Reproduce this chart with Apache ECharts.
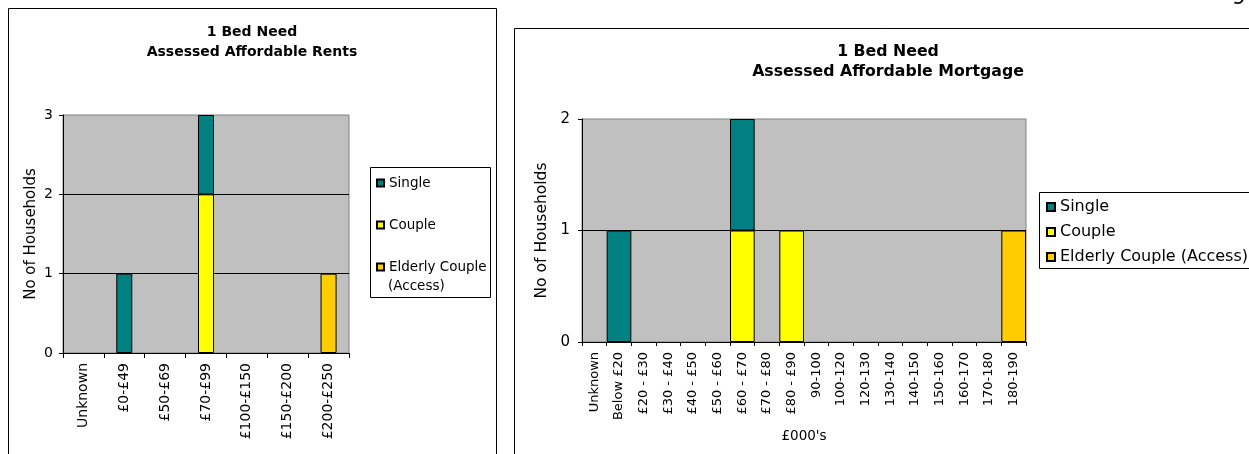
<!DOCTYPE html>
<html>
<head>
<meta charset="utf-8">
<script src="https://cdn.jsdelivr.net/npm/echarts@6/dist/echarts.min.js"></script>
<style>
  html, body { margin: 0; padding: 0; background: #fff; }
  #chart { width: 1249px; height: 454px; }
</style>
</head>
<body>
<div id="chart"></div>
<script>
// Rent bands (weekly) and household counts per band
const rentCategories = ['Unknown', '£0-£49', '£50-£69', '£70-£99', '£100-£150', '£150-£200', '£200-£250'];
const rentSingle  = [null, 1, null, 1, null, null, null];
const rentCouple  = [null, null, null, 2, null, null, null];
const rentElderly = [null, null, null, null, null, null, 1];
const rentTickMax = 3;

// Mortgage bands (£000's) and household counts per band
const mortgageCategories = ['Unknown', 'Below £20', '£20 - £30', '£30 - £40', '£40 - £50', '£50 - £60',
  '£60 - £70', '£70 - £80', '£80 - £90', '90-100', '100-120', '120-130', '130-140', '140-150',
  '150-160', '160-170', '170-180', '180-190'];
const mortgageSingle  = [null, 1, null, null, null, null, 1, null, null, null, null, null, null, null, null, null, null, null];
const mortgageCouple  = [null, null, null, null, null, null, 1, null, 1, null, null, null, null, null, null, null, null, null];
const mortgageElderly = [null, null, null, null, null, null, null, null, null, null, null, null, null, null, null, null, null, 1];
const mortgageTickMax = 2;

const seriesNames = ['Single', 'Couple', 'Elderly Couple (Access)'];
const colors = { 'Single': '#008080', 'Couple': '#FFFF00', 'Elderly Couple (Access)': '#FFCC00' };

const FONT = 'DejaVu Sans, Verdana, sans-serif';

function barSeries(name, data, idx, extra) {
  return Object.assign({
    name: name,
    type: 'bar',
    stack: 'total' + idx,
    xAxisIndex: idx,
    yAxisIndex: idx,
    data: data,
    itemStyle: { color: colors[name], borderColor: '#000', borderWidth: 1 },
    emphasis: { disabled: true },
    animation: false
  }, extra || {});
}

function valueAxis(idx, max, fontSize, margin, nameGap, nameSize) {
  return {
    type: 'value', gridIndex: idx, min: 0, max: max, interval: 1,
    name: 'No of Households', nameLocation: 'middle', nameGap: nameGap, nameRotate: 90,
    nameTextStyle: { fontFamily: FONT, fontSize: nameSize, color: '#000' },
    axisLine: { show: true, lineStyle: { color: '#000', width: 1 } },
    axisTick: { show: true, length: 4, lineStyle: { color: '#000' } },
    axisLabel: { fontFamily: FONT, fontSize: fontSize, color: '#000', margin: margin },
    splitLine: { show: true, showMaxLine: false, lineStyle: { color: '#000', width: 1 } }
  };
}

function categoryAxis(idx, cats, fontSize, tickLen, extra) {
  return Object.assign({
    type: 'category', gridIndex: idx, data: cats,
    axisLine: { show: true, onZero: false, lineStyle: { color: '#000', width: 1 } },
    axisTick: { show: true, length: tickLen, alignWithLabel: false, lineStyle: { color: '#000' } },
    axisLabel: { interval: 0, rotate: 90, fontFamily: FONT, fontSize: fontSize, color: '#000', margin: 10 },
    splitLine: { show: false }
  }, extra || {});
}

const chart = echarts.init(document.getElementById('chart'), null, { renderer: 'canvas' });

const option = {
  backgroundColor: '#fff',
  animation: false,
  title: [
    {
      text: '1 Bed Need\nAssessed Affordable Rents',
      left: 252, top: 22, textAlign: 'center', padding: 0,
      textStyle: { fontFamily: FONT, fontSize: 14, fontWeight: 'bold', color: '#000', lineHeight: 20 }
    },
    {
      text: '1 Bed Need\nAssessed Affordable Mortgage',
      left: 888, top: 42, textAlign: 'center', padding: 0,
      textStyle: { fontFamily: FONT, fontSize: 15.75, fontWeight: 'bold', color: '#000', lineHeight: 20 }
    }
  ],
  grid: [
    { left: 63, top: 115, width: 286, height: 238, show: true, backgroundColor: '#C0C0C0', borderColor: '#808080', borderWidth: 1 },
    { left: 582, top: 119, width: 444, height: 223, show: true, backgroundColor: '#C0C0C0', borderColor: '#808080', borderWidth: 1 }
  ],
  legend: [
    {
      data: seriesNames, orient: 'vertical', left: 376, top: 175, padding: 0,
      itemWidth: 7, itemHeight: 7, itemGap: 26, icon: 'rect',
      selectedMode: false,
      formatter: function (n) { return n.replace(' (Access)', ''); },
      textStyle: { fontFamily: FONT, fontSize: 13.5, color: '#000', lineHeight: 16 }
    },
    {
      data: seriesNames, orient: 'vertical', left: 1046, top: 198, padding: 0,
      itemWidth: 8, itemHeight: 8, itemGap: 7, icon: 'rect',
      selectedMode: false,
      textStyle: { fontFamily: FONT, fontSize: 16, color: '#000', lineHeight: 18 }
    }
  ],
  xAxis: [
    categoryAxis(0, rentCategories, 14, 5),
    categoryAxis(1, mortgageCategories, 13, 4, {
      name: '£000\'s', nameLocation: 'middle', nameGap: 87,
      nameTextStyle: { fontFamily: FONT, fontSize: 13.5, color: '#000' }
    })
  ],
  yAxis: [
    valueAxis(0, rentTickMax, 14, 10, 24, 15),
    valueAxis(1, mortgageTickMax, 15, 12, 32, 15.5)
  ],
  series: [
    // stacking order: couples at the base, singles above
    barSeries('Couple', rentCouple, 0, { barWidth: 16 }),
    barSeries('Single', rentSingle, 0, { barWidth: 16 }),
    barSeries('Elderly Couple (Access)', rentElderly, 0, { barWidth: 16 }),
    barSeries('Couple', mortgageCouple, 1, { barCategoryGap: '0%' }),
    barSeries('Single', mortgageSingle, 1, { barCategoryGap: '0%' }),
    barSeries('Elderly Couple (Access)', mortgageElderly, 1, { barCategoryGap: '0%' })
  ],
  graphic: [
    // chart frames
    { type: 'rect', silent: true, z: -1, shape: { x: 8.5, y: 8.5, width: 488, height: 480 }, style: { fill: null, stroke: '#000', lineWidth: 1 } },
    { type: 'rect', silent: true, z: -1, shape: { x: 514.5, y: 28.5, width: 800, height: 480 }, style: { fill: null, stroke: '#000', lineWidth: 1 } },
    // legend frames
    { type: 'rect', silent: true, shape: { x: 370.5, y: 167.5, width: 120, height: 130 }, style: { fill: null, stroke: '#000', lineWidth: 1 } },
    { type: 'rect', silent: true, shape: { x: 1039.5, y: 192.5, width: 300, height: 76 }, style: { fill: null, stroke: '#000', lineWidth: 1 } },
    // second line of the wrapped legend entry
    { type: 'text', silent: true, x: 388, y: 286, style: { text: '(Access)', font: '13.5px DejaVu Sans', fill: '#000', textVerticalAlign: 'middle' } },
    // page number at the top edge
    { type: 'text', silent: true, x: 1232, y: 9, style: { text: '9', font: '22px DejaVu Sans', fill: '#000', textVerticalAlign: 'bottom' } }
  ]
};

chart.setOption(option);
</script>
</body>
</html>
